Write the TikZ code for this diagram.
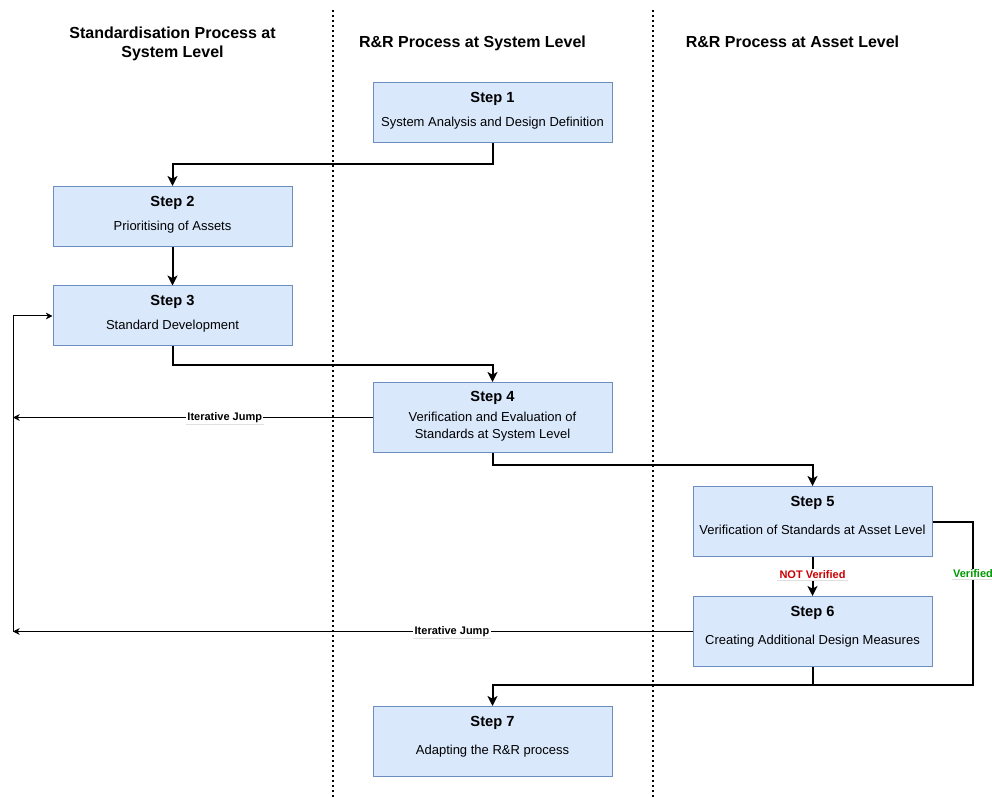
\documentclass[tikz,border=0pt]{standalone}
\usepackage{fontspec}
\setmainfont{Liberation Sans}
\usetikzlibrary{arrows.meta}
\definecolor{boxfill}{HTML}{DAE8FC}
\definecolor{boxline}{HTML}{6C8EBF}
\definecolor{nvred}{HTML}{CC0000}
\definecolor{vgreen}{HTML}{009900}
\begin{document}
\begin{tikzpicture}[x=0.75pt,y=-0.75pt,
  stepbox/.style={draw=boxline,fill=boxfill,line width=0.75pt,minimum width=179.25pt,inner sep=0pt},
  shortbox/.style={stepbox,minimum height=45pt},
  tallbox/.style={stepbox,minimum height=52.5pt},
  ttl/.style={anchor=base,font=\fontsize{11}{13}\selectfont\bfseries,inner sep=0pt},
  bdy/.style={anchor=base,font=\fontsize{9.75}{12}\selectfont,inner sep=0pt},
  hdr/.style={anchor=base,font=\fontsize{12}{14}\selectfont\bfseries,inner sep=0pt},
  lbl/.style={font=\fontsize{8.25}{10}\selectfont\bfseries,fill=white,inner sep=1pt},
  flow/.style={line width=1.5pt,-{Stealth[length=7.5pt,width=7.5pt,inset=2pt]}},
  flowplain/.style={line width=1.5pt},
  jump/.style={line width=0.75pt,-{Stealth[length=5pt,width=5pt,inset=1.5pt]}},
  lane/.style={line width=1.5pt,dash pattern=on 1.5pt off 2.25pt}
]
\useasboundingbox (0,0) rectangle (992,798);

% lane separators
\coordinate (l1t) at (333,10); \coordinate (l1b) at (333,798);
\coordinate (l2t) at (653,10); \coordinate (l2b) at (653,798);
\draw[lane] (l1t) -- (l1b);
\draw[lane] (l2t) -- (l2b);

% headers
\node[hdr] (h1a) at (172.5,39) {Standardisation Process at};
\node[hdr] (h1b) at (172.5,58) {System Level};
\node[hdr] (h2) at (472.5,48) {R\&R Process at System Level};
\node[hdr] (h3) at (792.5,48) {R\&R Process at Asset Level};

% boxes
\node[shortbox] (s1) at (492.5,113) {};
\node[shortbox] (s2) at (172.5,216.5) {};
\node[shortbox] (s3) at (172.5,316) {};
\node[tallbox] (s4) at (492.5,417.5) {};
\node[tallbox] (s5) at (812.5,521.5) {};
\node[tallbox] (s6) at (812.5,631.5) {};
\node[tallbox] (s7) at (492.5,741.5) {};

% box texts
\node[ttl] (t1) at (492.5,103) {Step 1};
\node[bdy] (b1) at (492.5,126.7) {System Analysis and Design Definition};
\node[ttl] (t2) at (172.5,207) {Step 2};
\node[bdy] (b2) at (172.5,230.7) {Prioritising of Assets};
\node[ttl] (t3) at (172.5,306) {Step 3};
\node[bdy] (b3) at (172.5,329.7) {Standard Development};
\node[ttl] (t4) at (492.5,402) {Step 4};
\node[bdy] (b4a) at (492.5,421.7) {Verification and Evaluation of};
\node[bdy] (b4b) at (492.5,438.7) {Standards at System Level};
\node[ttl] (t5) at (812.5,506) {Step 5};
\node[bdy] (b5) at (812.5,534.7) {Verification of Standards at Asset Level};
\node[ttl] (t6) at (812.5,616) {Step 6};
\node[bdy] (b6) at (812.5,644.7) {Creating Additional Design Measures};
\node[ttl] (t7) at (492.5,726) {Step 7};
\node[bdy] (b7) at (492.5,754.7) {Adapting the R\&R process};

% main flow
\draw[flow] (s1.south) -- ++(0,21) -| (s2.north);
\draw[flow] (s2.south) -- (s3.north);
\draw[flow] (s3.south) -- ++(0,19) -| (s4.north);
\draw[flow] (s4.south) -- ++(0,11.5) -| (s5.north);
\draw[flow] (s5.south) -- node[lbl,text=nvred,pos=0.44] (nv) {NOT Verified} (s6.north);
\coordinate (merge) at (492.5,685);
\draw[flow] (s5.east) -- ++(40.5,0) |- (merge) -- (s7.north);
\draw[flowplain] (s6.south) -- (s6.south |- merge);
\node[lbl,text=vgreen] (vf) at (973,574) {Verified};

% iterative jumps
\coordinate (j1) at (13,417.5);
\coordinate (j2) at (13,631.5);
\draw[jump] (s4.west) -- node[lbl,pos=0.411] (ij1) {Iterative Jump} (j1);
\draw[jump] (s6.west) -- node[lbl,pos=0.354] (ij2) {Iterative Jump} (j2);
\draw[jump] (j2) |- (s3.west);

% faint label underlines
\foreach \n in {nv,vf,ij1,ij2}{
  \draw[gray!25,line width=0.5pt] (\n.south west) -- (\n.south east);
}
\end{tikzpicture}
\end{document}
